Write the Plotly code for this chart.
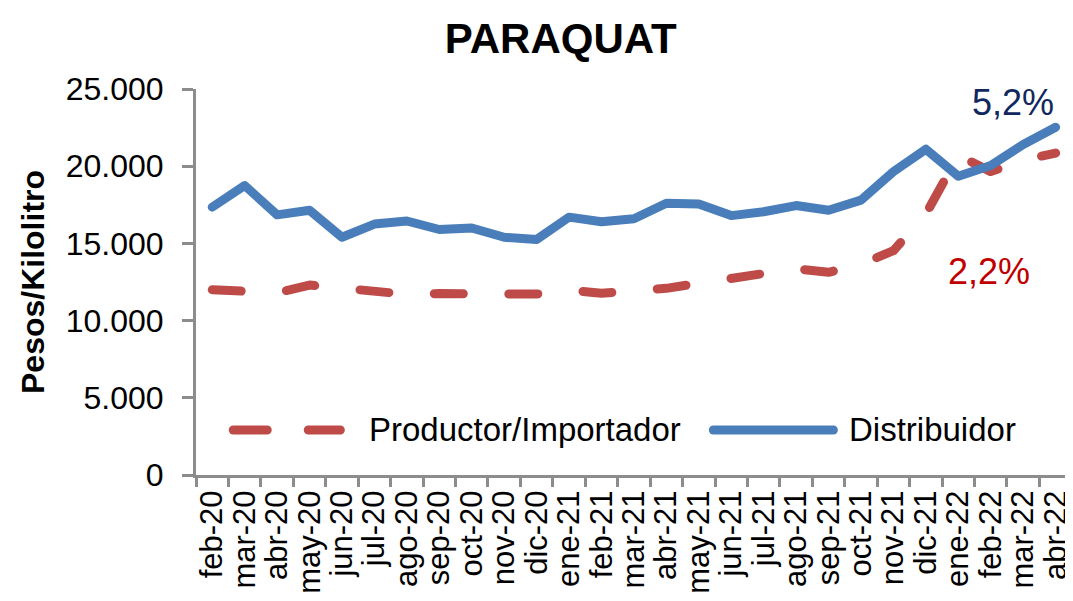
import plotly.graph_objects as go

categories = ["feb-20", "mar-20", "abr-20", "may-20", "jun-20", "jul-20", "ago-20", "sep-20",
              "oct-20", "nov-20", "dic-20", "ene-21", "feb-21", "mar-21", "abr-21", "may-21",
              "jun-21", "jul-21", "ago-21", "sep-21", "oct-21", "nov-21", "dic-21", "ene-22",
              "feb-22", "mar-22", "abr-22"]

productor = [12000, 11950, 11800, 12300, 12100, 12000, 11700, 11750,
             11800, 11720, 11720, 11980, 11770, 11950, 12090, 12420,
             12740, 13060, 13360, 13130, 13650, 14530, 16900, 20700,
             19650, 20400, 20850]

distribuidor = [17350, 18750, 16850, 17150, 15400, 16250, 16450, 15900,
                16000, 15400, 15250, 16700, 16400, 16600, 17600, 17550,
                16800, 17050, 17450, 17150, 17800, 19650, 21100, 19350,
                20050, 21400, 22520]

y_ticks = [0, 5000, 10000, 15000, 20000, 25000]
y_tick_text = ["0", "5.000", "10.000", "15.000", "20.000", "25.000"]

series_names = ["Productor/Importador", "Distribuidor"]
label_dist = "5,2%"
label_prod = "2,2%"

FONT = "Liberation Sans, Arial, sans-serif"
RED = "#BE4B48"
BLUE = "#4A7EBB"
GRAY = "#8C8C8C"

fig = go.Figure()
fig.add_trace(go.Scatter(
    x=categories, y=productor, mode="lines", name=series_names[0],
    line=dict(color=RED, width=9, dash="29px,45.5px"),
))
fig.add_trace(go.Scatter(
    x=categories, y=distribuidor, mode="lines", name=series_names[1],
    line=dict(color=BLUE, width=9),
))

# end labels
fig.add_annotation(xref="paper", yref="paper", x=0.939, y=0.966, text=label_dist,
                   showarrow=False, xanchor="center", yanchor="middle",
                   font=dict(family=FONT, size=36, color="#10285F"))
fig.add_annotation(xref="paper", yref="paper", x=0.912, y=0.526, text=label_prod,
                   showarrow=False, xanchor="center", yanchor="middle",
                   font=dict(family=FONT, size=36, color="#C00000"))

# legend drawn inside the plot area, like the original
leg_y = 0.1166
fig.add_shape(type="line", xref="paper", yref="paper", x0=0.0428, x1=0.1659, y0=leg_y, y1=leg_y,
              line=dict(color=RED, width=9, dash="34px,41px"))
fig.add_shape(type="line", xref="paper", yref="paper", x0=0.5946, x1=0.7326, y0=leg_y, y1=leg_y,
              line=dict(color=BLUE, width=9))
fig.add_annotation(xref="paper", yref="paper", x=0.1961, y=leg_y, text=series_names[0],
                   showarrow=False, xanchor="left", yanchor="middle",
                   font=dict(family=FONT, size=33, color="black"))
fig.add_annotation(xref="paper", yref="paper", x=0.748, y=leg_y, text=series_names[1],
                   showarrow=False, xanchor="left", yanchor="middle",
                   font=dict(family=FONT, size=33, color="black"))

fig.update_layout(
    width=1065, height=593,
    margin=dict(l=188, r=0, t=81, b=126, pad=0),
    paper_bgcolor="white", plot_bgcolor="white",
    title=dict(text="<b>PARAQUAT</b>", x=0.519, xanchor="center", y=0.949, yanchor="middle",
               font=dict(family=FONT, size=42, color="black")),
    font=dict(family=FONT, size=31, color="black"),
    showlegend=False,
    hovermode=False,
)
fig.update_xaxes(
    type="category", range=[-0.5, 26.32], tickangle=-90,
    tickmode="linear", tick0=0, dtick=1,
    showline=True, linecolor=GRAY, linewidth=3,
    ticks="outside", tickson="boundaries", ticklen=9, tickwidth=3, tickcolor=GRAY,
    showgrid=False, zeroline=False,
    tickfont=dict(family=FONT, size=31, color="black"),
)
fig.update_yaxes(
    range=[0, 25000], tickvals=y_ticks, ticktext=y_tick_text,
    showline=True, linecolor=GRAY, linewidth=3,
    ticks="outside", ticklen=11, tickwidth=3, tickcolor=GRAY,
    ticklabelstandoff=12,
    showgrid=False, zeroline=False,
    tickfont=dict(family=FONT, size=32, color="black"),
    title=dict(text="<b>Pesos/Kilolitro</b>", standoff=12,
               font=dict(family=FONT, size=32, color="black")),
)

post = """
var gd = document.getElementById('{plot_id}');
function rc(){
  gd.querySelectorAll('path.js-line, .shapelayer path').forEach(function(p){
    p.style.strokeLinecap = 'round';
    p.style.strokeLinejoin = 'round';
  });
}
rc();
gd.on('plotly_afterplot', rc);
"""
fig.write_html("out.html", post_script=post)
